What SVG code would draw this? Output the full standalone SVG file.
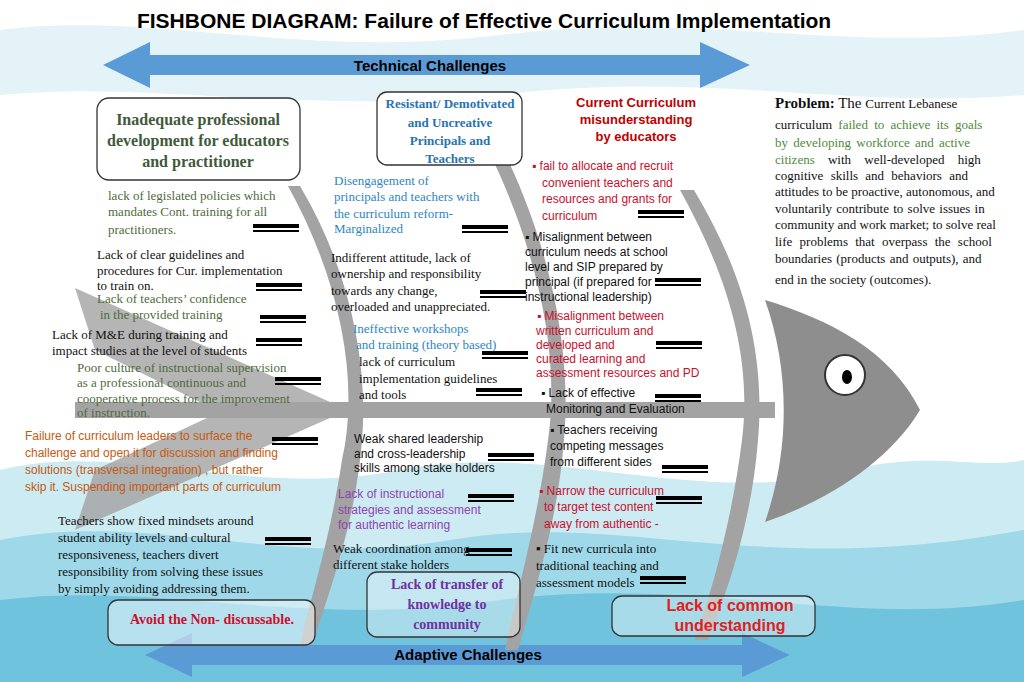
<svg xmlns="http://www.w3.org/2000/svg" xmlns:xlink="http://www.w3.org/1999/xlink" width="1024" height="682" viewBox="0 0 1024 682">
<style>
.s{font-family:"Liberation Serif",serif;font-size:13px}
.a{font-family:"Liberation Sans",Arial,sans-serif;font-size:12px}
.g{fill:#4f6b3c}.k{fill:#111}.b{fill:#2e86c1}.r{fill:#c8102e}.o{fill:#c55a11}.p{fill:#8e44ad}
.box{fill:#fff;stroke:#333;stroke-width:1.3}
.bone{fill:#a3a3a3}
</style>
<defs>
<g id="bar"><rect x="0" y="0" width="46" height="4" fill="#000"/><rect x="0" y="6" width="46" height="2" fill="#000"/></g>
</defs>
<rect width="1024" height="682" fill="#fff"/>
<path d="M0 30 C150 10 300 60 500 35 C700 10 850 55 1024 30 L1024 95 C850 110 700 70 500 95 C300 115 150 80 0 95z" fill="#e3f3f8"/>
<path d="M0 470 C120 440 250 500 400 470 C550 440 700 510 850 470 C930 450 980 470 1024 460 L1024 682 L0 682z" fill="#cdebf3"/>
<path d="M0 540 C150 510 280 570 450 540 C620 510 760 580 1024 530 L1024 682 L0 682z" fill="#9fd8e8"/>
<path d="M0 600 C160 580 300 630 500 600 C700 575 850 630 1024 600 L1024 682 L0 682z" fill="#6fc3dc"/>
<text x="484" y="28" text-anchor="middle" font-family="Liberation Sans,Arial,sans-serif" font-weight="bold" font-size="21" fill="#000">FISHBONE DIAGRAM: Failure of Effective Curriculum Implementation</text>
<g id="arrows" fill="#5b9bd5">
<path d="M103 65 L150 42 L150 55 L700 55 L700 42 L750 65 L700 88 L700 75 L150 75 L150 88z"/>
<path d="M145 655 L192 633 L192 645 L742 645 L742 633 L790 655 L742 677 L742 665 L192 665 L192 677z"/>
</g>
<text x="430" y="71" text-anchor="middle" font-family="Liberation Sans,Arial,sans-serif" font-weight="bold" font-size="15">Technical Challenges</text>
<text x="468" y="660" text-anchor="middle" font-family="Liberation Sans,Arial,sans-serif" font-weight="bold" font-size="15">Adaptive Challenges</text>
<g id="connectors">
<path class="bone" d="M75 288 L330 402 L330 418 L75 530 L95 470 L220 412 L95 350z" opacity="0.8"/>
<rect class="bone" x="75" y="402" width="700" height="16"/>
<path class="bone" d="M288 186 C340 280 360 380 342 460 C330 540 310 600 300 645 L312 645 C330 590 352 530 360 460 C372 370 350 270 300 186z"/>
<path class="bone" d="M493 160 C540 260 560 360 548 440 C538 520 515 600 505 650 L518 650 C535 590 558 520 564 440 C572 350 550 250 508 160z"/>
<path class="bone" d="M680 190 C730 280 752 360 742 440 C732 520 712 590 695 640 L708 640 C728 590 752 520 758 440 C766 350 742 270 694 190z"/>
<path d="M765 300 C830 320 890 350 920 410 C890 460 830 500 765 522 C790 450 790 370 765 300z" fill="#8e8e8e"/>
<circle cx="845" cy="375" r="20" fill="#fff" stroke="#333" stroke-width="2"/>
<ellipse cx="847" cy="377" rx="5" ry="7" fill="#000"/>
</g>
<g id="bars">
<use xlink:href="#bar" x="253" y="224"/><use xlink:href="#bar" x="256" y="283"/><use xlink:href="#bar" x="260" y="315"/>
<use xlink:href="#bar" x="256" y="338"/><use xlink:href="#bar" x="275" y="377"/><use xlink:href="#bar" x="272" y="437"/>
<use xlink:href="#bar" x="265" y="537"/>
<use xlink:href="#bar" x="462" y="225"/><use xlink:href="#bar" x="480" y="290"/><use xlink:href="#bar" x="482" y="351"/>
<use xlink:href="#bar" x="476" y="388"/><use xlink:href="#bar" x="488" y="453"/><use xlink:href="#bar" x="468" y="494"/>
<use xlink:href="#bar" x="466" y="548"/>
<use xlink:href="#bar" x="638" y="210"/><use xlink:href="#bar" x="655" y="278"/><use xlink:href="#bar" x="656" y="341"/>
<use xlink:href="#bar" x="655" y="394"/><use xlink:href="#bar" x="662" y="465"/><use xlink:href="#bar" x="656" y="496"/>
<use xlink:href="#bar" x="640" y="576"/>
</g>
<g id="n-prof"><rect class="box" x="97" y="98" width="203" height="82" rx="12"/>
<text font-family="Liberation Serif,serif" font-weight="bold" font-size="16" fill="#3f5a3a" text-anchor="middle"><tspan x="198" y="125">Inadequate professional</tspan><tspan x="198" y="146">development for educators</tspan><tspan x="198" y="167">and practitioner</tspan></text></g>
<g id="n-resist"><rect class="box" x="377" y="92" width="145" height="73" rx="10"/>
<text font-family="Liberation Serif,serif" font-weight="bold" font-size="13" fill="#2874b0" text-anchor="middle"><tspan x="450" y="108">Resistant/ Demotivated</tspan><tspan x="450" y="127">and Uncreative</tspan><tspan x="450" y="145">Principals and</tspan><tspan x="450" y="163">Teachers</tspan></text></g>
<g id="n-mis"><text font-family="Liberation Sans,Arial,sans-serif" font-weight="bold" font-size="13" fill="#c00000" text-anchor="middle"><tspan x="636" y="107">Current Curriculum</tspan><tspan x="636" y="124">misunderstanding</tspan><tspan x="636" y="141">by educators</tspan></text></g>
<g id="n-avoid"><rect class="box" x="108" y="600" width="207" height="45" rx="10" fill-opacity="0.5"/>
<text x="212" y="624" text-anchor="middle" font-family="Liberation Serif,serif" font-weight="bold" font-size="14" fill="#c8102e">Avoid the Non- discussable.</text></g>
<g id="n-transfer"><rect class="box" x="367" y="572" width="153" height="65" rx="10" fill-opacity="0.4"/>
<text font-family="Liberation Serif,serif" font-weight="bold" font-size="14" fill="#7030a0" text-anchor="middle"><tspan x="447" y="589">Lack of transfer of</tspan><tspan x="447" y="609">knowledge to</tspan><tspan x="447" y="629">community</tspan></text></g>
<g id="n-common"><rect class="box" x="612" y="596" width="203" height="40" rx="10" fill-opacity="0.4"/>
<text font-family="Liberation Sans,Arial,sans-serif" font-weight="bold" font-size="16" fill="#e02020" text-anchor="middle"><tspan x="730" y="611">Lack of common</tspan><tspan x="730" y="631">understanding</tspan></text></g>
<g id="left">
<text class="s g"><tspan x="108" y="200">lack of legislated policies which</tspan><tspan x="108" y="216">mandates Cont. training for all</tspan><tspan x="108" y="234">practitioners.</tspan></text>
<text class="s k"><tspan x="97" y="259">Lack of clear guidelines and</tspan><tspan x="97" y="275">procedures for Cur.  implementation</tspan><tspan x="97" y="290">to train on.</tspan></text>
<text class="s g"><tspan x="97" y="303">Lack of teachers’ confidence</tspan><tspan x="100" y="319">in the provided training</tspan></text>
<text class="s k"><tspan x="52" y="339">Lack of M&amp;E during training and</tspan><tspan x="52" y="355">impact studies at the level of students</tspan></text>
<text class="s g"><tspan x="77" y="372">Poor culture of instructional supervision</tspan><tspan x="77" y="387">as a professional  continuous and</tspan><tspan x="77" y="403">cooperative process  for the improvement</tspan><tspan x="77" y="417">of instruction.</tspan></text>
<text class="a o" font-size="13"><tspan x="25" y="440">Failure of curriculum leaders to surface the</tspan><tspan x="25" y="457">challenge and open it for discussion and finding</tspan><tspan x="25" y="474">solutions (transversal integration) , but rather</tspan><tspan x="25" y="491">skip it. Suspending important parts of curriculum</tspan></text>
<text class="s k"><tspan x="58" y="525">Teachers show fixed mindsets around</tspan><tspan x="58" y="542">student ability levels and cultural</tspan><tspan x="58" y="559">responsiveness, teachers divert</tspan><tspan x="58" y="576">responsibility from solving these issues</tspan><tspan x="58" y="593">by simply avoiding addressing them.</tspan></text>
</g>
<g id="middle">
<text class="s b"><tspan x="334" y="185">Disengagement of</tspan><tspan x="334" y="201">principals and teachers with</tspan><tspan x="334" y="218">the curriculum reform-</tspan><tspan x="334" y="233">Marginalized</tspan></text>
<text class="s k"><tspan x="331" y="262">Indifferent attitude, lack of</tspan><tspan x="331" y="278">ownership and responsibility</tspan><tspan x="331" y="295">towards any change,</tspan><tspan x="331" y="311">overloaded and unappreciated.</tspan></text>
<text class="s b"><tspan x="353" y="333">Ineffective workshops</tspan><tspan x="356" y="349">and training (theory based)</tspan></text>
<text class="s k"><tspan x="359" y="366">lack of curriculum</tspan><tspan x="359" y="383">implementation guidelines</tspan><tspan x="359" y="399">and tools</tspan></text>
<text class="a k"><tspan x="354" y="443">Weak shared leadership</tspan><tspan x="354" y="458">and cross-leadership</tspan><tspan x="354" y="472">skills among stake holders</tspan></text>
<text class="a p"><tspan x="338" y="498">Lack of instructional</tspan><tspan x="338" y="514">strategies and assessment</tspan><tspan x="338" y="529">for authentic learning</tspan></text>
<text class="s k"><tspan x="333" y="553">Weak coordination among</tspan><tspan x="333" y="569">different stake holders</tspan></text>
</g>
<g id="right">
<text class="a r"><tspan x="532" y="170">▪ fail to allocate and recruit</tspan><tspan x="542" y="187">convenient teachers and</tspan><tspan x="542" y="203">resources and grants for</tspan><tspan x="542" y="220">curriculum</tspan></text>
<text class="a k"><tspan x="525" y="241">▪ Misalignment between</tspan><tspan x="525" y="256">curriculum needs at school</tspan><tspan x="525" y="271">level and SIP prepared by</tspan><tspan x="525" y="286">principal (if prepared for</tspan><tspan x="525" y="301">instructional leadership)</tspan></text>
<text class="a r"><tspan x="537" y="320">▪ Misalignment between</tspan><tspan x="536" y="335">written curriculum and</tspan><tspan x="536" y="349">developed and</tspan><tspan x="536" y="363">curated learning and</tspan><tspan x="536" y="377">assessment resources and PD</tspan></text>
<text class="a k"><tspan x="541" y="397">▪ Lack of effective</tspan><tspan x="546" y="413">Monitoring and Evaluation</tspan></text>
<text class="a k" font-size="13"><tspan x="550" y="434">▪ Teachers receiving</tspan><tspan x="550" y="450">competing messages</tspan><tspan x="550" y="466">from different sides</tspan></text>
<text class="a r" font-size="13"><tspan x="539" y="495">▪ Narrow the curriculum</tspan><tspan x="544" y="511">to target test content</tspan><tspan x="544" y="528">away from authentic -</tspan></text>
<text class="s k"><tspan x="536" y="553">▪ Fit new curricula into</tspan><tspan x="536" y="570">traditional teaching and</tspan><tspan x="536" y="587">assessment models</tspan></text>
</g>
<g id="problem" font-family="Liberation Serif,serif" font-size="13" fill="#111">
<text x="775" y="108"><tspan font-weight="bold" font-size="15">Problem:</tspan><tspan font-size="15"> The </tspan>Current Lebanese</text>
<text x="775" y="129" word-spacing="3">curriculum <tspan fill="#4f8a3c">failed to achieve its goals</tspan></text>
<text x="775" y="147" word-spacing="2" fill="#4f8a3c">by developing workforce and active</text>
<text x="775" y="164" word-spacing="10"><tspan fill="#4f8a3c">citizens</tspan> with well-developed high</text>
<text x="775" y="180" word-spacing="4">cognitive skills and behaviors and</text>
<text x="775" y="196">attitudes to be proactive, autonomous, and</text>
<text x="775" y="213" word-spacing="1">voluntarily contribute to solve issues in</text>
<text x="775" y="229">community and work market; to solve real</text>
<text x="775" y="246" word-spacing="4">life problems that overpass the school</text>
<text x="775" y="263" word-spacing="1">boundaries (products and outputs), and</text>
<text x="775" y="284">end in the society (outcomes).</text>
</g>
</svg>
